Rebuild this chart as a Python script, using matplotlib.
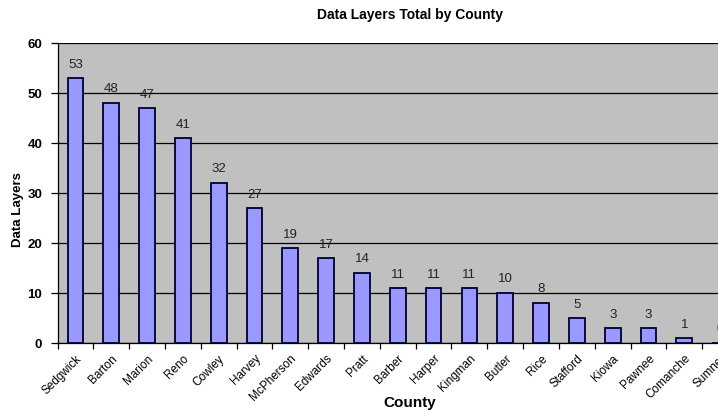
import matplotlib
matplotlib.use("Agg")
import matplotlib.pyplot as plt
import numpy as np

counties = ["Sedgwick", "Barton", "Marion", "Reno", "Cowley", "Harvey", "McPherson",
            "Edwards", "Pratt", "Barber", "Harper", "Kingman", "Butler", "Rice",
            "Stafford", "Kiowa", "Pawnee", "Comanche", "Sumner"]
layers = [53, 48, 47, 41, 32, 27, 19, 17, 14, 11, 11, 11, 10, 8, 5, 3, 3, 1, 0]
yticks = [0, 10, 20, 30, 40, 50, 60]

plt.rcParams['font.family'] = ['Liberation Sans', 'DejaVu Sans']

W, H = 718, 412
fig = plt.figure(figsize=(W / 100, H / 100), dpi=100)
left, right, top, bottom = 57.5, 738, 43, 343
ax = fig.add_axes([left / W, 1 - bottom / H, (right - left) / W, (bottom - top) / H])
ax.set_facecolor("#C0C0C0")

x = np.arange(len(counties))
ax.bar(x, layers, width=0.44, color="#9999FF", edgecolor="#000033",
       linewidth=1.3, zorder=3)
for xi, v in zip(x, layers):
    ax.text(xi, v + 1.5, str(v), ha="center", va="bottom", fontsize=9.5,
            color="#222222", zorder=4)

ax.set_xlim(-0.5, len(counties) - 0.5)
ax.set_ylim(0, 60)
ax.set_yticks(yticks)
ax.set_yticklabels([str(t) for t in yticks], fontsize=9.5, fontweight="bold")
ax.yaxis.grid(True, color="black", linewidth=0.9, zorder=1)
ax.set_axisbelow(True)

ax.set_xticks(x)
ax.set_xticklabels(counties, rotation=45, ha="right", va="top",
                   rotation_mode="anchor", fontsize=8.5)
ax.tick_params(axis="x", length=0, pad=7)
ax.set_xticks(np.arange(len(counties) + 1) - 0.5, minor=True)
ax.tick_params(axis="x", which="minor", length=4, width=0.9, direction="out")
ax.tick_params(axis="y", length=5, width=0.9, direction="out", pad=6)

for s in ["top", "right"]:
    ax.spines[s].set_visible(False)
ax.spines["left"].set_linewidth(0.9)
ax.spines["bottom"].set_linewidth(0.9)

fig.text(410 / W, 1 - 14.5 / H, "Data Layers Total by County", ha="center", va="center",
         fontsize=10, fontweight="bold")
fig.text(18 / W, 1 - 210 / H, "Data Layers", ha="center", va="center", rotation=90,
         fontsize=9.5, fontweight="bold")
fig.text(410 / W, 1 - 403 / H, "County", ha="center", va="center",
         fontsize=11, fontweight="bold")

fig.savefig("out.png", dpi=100)
